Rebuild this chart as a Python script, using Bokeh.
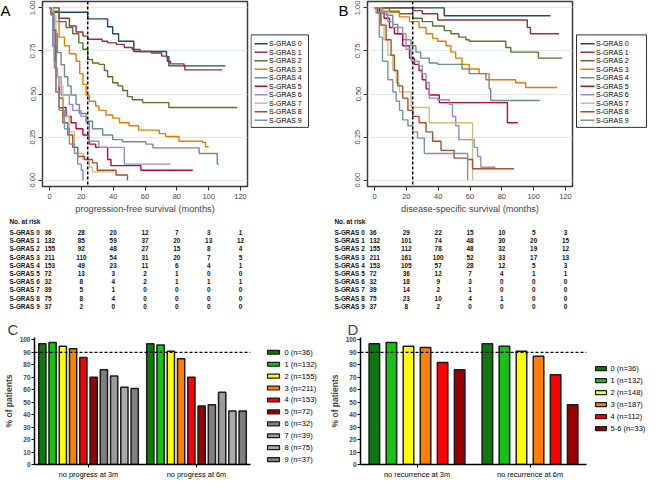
from bokeh.plotting import figure
from bokeh.layouts import column, row
from bokeh.models import (Range1d, FactorRange, Span, FixedTicker, ColumnDataSource,
                          NumeralTickFormatter)
from bokeh.transform import dodge
from bokeh.core.properties import value
from bokeh.embed import file_html
from bokeh.resources import INLINE

FONT = "Liberation Sans"

# ---------------- Kaplan-Meier data ----------------
group_names = [f"S-GRAS {i}" for i in range(10)]
km_colors = ["#1a476f", "#90353b", "#55752f", "#e37e00", "#6e8e84",
             "#c10534", "#938dd2", "#cac27e", "#a0522d", "#7b92a8"]
landmark_month = 24

pfs_t0 = [0, 1, 24, 36.5, 39.7, 43.4, 53, 73.5, 75, 110.6]
pfs_s0 = [1, 0.975, 0.936, 0.89, 0.85, 0.806, 0.747, 0.717, 0.663, 0.663]
pfs_t1 = [0, 6, 12.5, 16.7, 21, 24, 33, 36.5, 42, 47, 52, 57, 64, 70.5, 74, 76, 84.5, 85, 108.5]
pfs_s1 = [1, 0.94, 0.895, 0.86, 0.836, 0.818, 0.806, 0.797, 0.788, 0.77, 0.758, 0.747, 0.738, 0.72, 0.69, 0.675, 0.663, 0.64, 0.64]
pfs_t2 = [0, 2, 6, 10.4, 14.6, 18.4, 21, 24, 27, 31, 34.5, 36.5, 39.7, 43, 46, 49, 52, 58.5, 75, 118]
pfs_s2 = [1, 0.98, 0.92, 0.886, 0.85, 0.797, 0.76, 0.70, 0.68, 0.672, 0.636, 0.60, 0.565, 0.547, 0.52, 0.485, 0.467, 0.45, 0.422, 0.422]
pfs_t3 = [0, 1, 3, 6, 9.4, 12.5, 16.7, 19, 21, 23, 25, 29, 31, 35.5, 39.7, 44, 50, 56, 69, 73, 81.4, 96, 98, 100]
pfs_s3 = [1, 0.98, 0.92, 0.83, 0.78, 0.734, 0.69, 0.618, 0.556, 0.494, 0.458, 0.43, 0.405, 0.378, 0.36, 0.333, 0.316, 0.29, 0.27, 0.253, 0.226, 0.22, 0.194, 0.194]
pfs_t4 = [0, 1, 3, 5, 7.3, 9.4, 11.5, 13.6, 16.7, 18.8, 23, 27, 33.4, 39.7, 46, 60.5, 65, 94, 105.4, 106.5]
pfs_s4 = [1, 0.97, 0.85, 0.74, 0.67, 0.60, 0.547, 0.494, 0.44, 0.387, 0.342, 0.298, 0.262, 0.235, 0.223, 0.209, 0.187, 0.155, 0.093, 0.093]
pfs_t5 = [0, 1, 2, 4, 6, 8.4, 10.4, 13.6, 16.7, 21, 25, 29, 36.5, 38.6, 57.4, 90]
pfs_s5 = [1, 0.96, 0.78, 0.60, 0.476, 0.422, 0.369, 0.333, 0.298, 0.262, 0.209, 0.19, 0.12, 0.084, 0.057, 0.057]
pfs_t6 = [0, 2, 3, 5, 7.3, 12.5, 14.6, 19.8, 23, 25, 31, 47, 76]
pfs_s6 = [1, 0.97, 0.65, 0.60, 0.494, 0.44, 0.405, 0.37, 0.333, 0.226, 0.19, 0.093, 0.093]
pfs_t7 = [0, 2, 4, 6, 8.4, 12.5, 15.7, 17.7, 21, 25, 27, 40.7]
pfs_s7 = [1, 0.95, 0.60, 0.547, 0.369, 0.28, 0.19, 0.155, 0.12, 0.075, 0.048, 0.048]
pfs_t8 = [0, 1, 2, 4, 6, 8.4, 11.5, 14.6, 17.7, 22, 27, 30, 41.8, 49]
pfs_s8 = [1, 0.97, 0.87, 0.51, 0.42, 0.333, 0.262, 0.19, 0.137, 0.12, 0.10, 0.057, 0.03, 0.0]
pfs_t9 = [0, 1, 2, 3, 4, 6, 9.4, 12.5, 15.7, 17.7, 20, 21]
pfs_s9 = [1, 0.96, 0.78, 0.69, 0.51, 0.405, 0.298, 0.21, 0.155, 0.093, 0.057, 0.0]

dss_t0 = [0, 43.8, 110.6]
dss_s0 = [1, 0.954, 0.954]
dss_t1 = [0, 24, 30, 39.7, 96, 98, 116]
dss_s1 = [1, 0.984, 0.966, 0.93, 0.886, 0.85, 0.85]
dss_t2 = [0, 9.4, 15.7, 24, 30, 36.5, 43.8, 48, 53, 57.4, 59.5, 82.5, 85.6, 103, 118]
dss_s2 = [1, 0.98, 0.966, 0.94, 0.92, 0.895, 0.868, 0.85, 0.83, 0.815, 0.806, 0.77, 0.743, 0.708, 0.708]
dss_t3 = [0, 5, 9.4, 15.7, 22, 28, 32.4, 36.5, 39.7, 45, 48, 51, 55, 59.5, 65.8, 72, 88.7, 95, 114.8]
dss_s3 = [1, 0.98, 0.975, 0.948, 0.92, 0.886, 0.85, 0.823, 0.806, 0.78, 0.743, 0.708, 0.672, 0.645, 0.618, 0.583, 0.565, 0.538, 0.538]
dss_t4 = [0, 4, 7.3, 11.5, 14.6, 17.7, 23, 26, 29, 34.4, 39.7, 55, 59.5, 70, 72, 73, 104]
dss_s4 = [1, 0.97, 0.957, 0.904, 0.85, 0.815, 0.78, 0.743, 0.708, 0.68, 0.672, 0.645, 0.618, 0.583, 0.53, 0.462, 0.462]
dss_t5 = [0, 3, 6, 9.4, 12.5, 17.7, 22, 25, 28, 30, 32.4, 34.4, 40.7, 83.5, 90]
dss_s5 = [1, 0.97, 0.94, 0.886, 0.85, 0.78, 0.708, 0.672, 0.636, 0.583, 0.53, 0.494, 0.45, 0.333, 0.333]
dss_t6 = [0, 4, 8.4, 11.5, 17.7, 19.8, 23, 28, 30, 32.4, 34.4, 39.7, 47, 49, 51, 53, 62.6, 64.7, 66.8, 76]
dss_s6 = [1, 0.97, 0.92, 0.886, 0.85, 0.76, 0.69, 0.663, 0.618, 0.565, 0.476, 0.467, 0.44, 0.369, 0.316, 0.235, 0.19, 0.137, 0.075, 0.075]
dss_t7 = [0, 2, 4, 6, 8.4, 11.5, 13.6, 15.7, 23, 34.4, 61.6]
dss_s7 = [1, 0.97, 0.904, 0.815, 0.725, 0.636, 0.565, 0.512, 0.422, 0.333, 0.0]
dss_t8 = [0, 2, 4, 7.3, 10.4, 12.5, 14.6, 17.7, 21, 24, 28, 32.4, 36.5, 41.8, 50, 58.5, 61.6, 87.7]
dss_s8 = [1, 0.97, 0.9, 0.815, 0.725, 0.636, 0.547, 0.476, 0.405, 0.37, 0.333, 0.28, 0.226, 0.173, 0.128, 0.12, 0.066, 0.066]
dss_t9 = [0, 1, 3, 5, 8.4, 11.5, 13.6, 15.7, 17.7, 21, 24, 27, 31.3, 58.5]
dss_s9 = [1, 0.97, 0.83, 0.69, 0.583, 0.512, 0.458, 0.405, 0.35, 0.316, 0.28, 0.244, 0.155, 0.0]

pfs_times = [pfs_t0, pfs_t1, pfs_t2, pfs_t3, pfs_t4, pfs_t5, pfs_t6, pfs_t7, pfs_t8, pfs_t9]
pfs_surv = [pfs_s0, pfs_s1, pfs_s2, pfs_s3, pfs_s4, pfs_s5, pfs_s6, pfs_s7, pfs_s8, pfs_s9]
dss_times = [dss_t0, dss_t1, dss_t2, dss_t3, dss_t4, dss_t5, dss_t6, dss_t7, dss_t8, dss_t9]
dss_surv = [dss_s0, dss_s1, dss_s2, dss_s3, dss_s4, dss_s5, dss_s6, dss_s7, dss_s8, dss_s9]

# ---------------- numbers at risk ----------------
risk_times = [0, 20, 40, 60, 80, 100, 120]
pfs_risk = [
    [36, 28, 20, 12, 7, 3, 1], [132, 85, 59, 37, 20, 13, 12], [155, 92, 48, 27, 15, 8, 4],
    [211, 110, 54, 31, 20, 7, 5], [153, 49, 23, 11, 6, 4, 1], [72, 13, 3, 2, 1, 0, 0],
    [32, 8, 4, 2, 1, 1, 1], [39, 5, 1, 0, 0, 0, 0], [75, 8, 4, 0, 0, 0, 0], [37, 2, 0, 0, 0, 0, 0],
]
dss_risk = [
    [36, 29, 22, 15, 10, 5, 3], [132, 101, 74, 48, 30, 20, 15], [155, 112, 78, 48, 32, 19, 12],
    [211, 161, 100, 52, 33, 17, 13], [153, 105, 57, 28, 12, 5, 3], [72, 36, 12, 7, 4, 1, 1],
    [32, 18, 9, 3, 0, 0, 0], [39, 14, 2, 1, 0, 0, 0], [75, 23, 10, 4, 1, 0, 0], [37, 8, 2, 0, 0, 0, 0],
]

# ---------------- bar data ----------------
c_groups = ["no progress at 3m", "no progress at 6m"]
c_labels = ["0 (n=36)", "1 (n=132)", "2 (n=155)", "3 (n=211)", "4 (n=153)",
            "5 (n=72)", "6 (n=32)", "7 (n=39)", "8 (n=75)", "9 (n=37)"]
c_3m = [97, 98, 95, 93, 86, 70, 76, 71, 62, 61]
c_6m = [97, 96, 91, 85, 70, 47, 48, 58, 43, 43]
c_colors = ["#0b7a0b", "#16c216", "#ffff00", "#ff8000", "#ff0000",
            "#9a0000", "#7f7f7f", "#9c9c9c", "#ababab", "#808080"]

d_groups = ["no recurrence at 3m", "no recurrence at 6m"]
d_labels = ["0 (n=36)", "1 (n=132)", "2 (n=148)", "3 (n=187)", "4 (n=112)", "5-6 (n=33)"]
d_3m = [97, 98, 95, 94, 82, 76]
d_6m = [97, 95, 91, 87, 72, 48]
d_colors = ["#0b7a0b", "#16c216", "#ffff00", "#ff8000", "#ff0000", "#9a0000"]

threshold = 90
KM_X = (-4.4, 124.4)
KM_Y = (-0.037, 1.037)
KM_H = 216
TABLE_H = 102
BAR_H = 163


def blank(width, height, xr, yr):
    p = figure(width=width, height=height, x_range=xr, y_range=yr, x_axis_type=None,
               y_axis_type=None, output_backend="svg", toolbar_location=None, min_border=0)
    p.outline_line_color = None
    p.grid.visible = False
    return p


def letter_strip(width, letter, x):
    p = blank(width, KM_H, Range1d(0, width), Range1d(KM_H, 0))
    p.text(x=[x], y=[1], text=[letter], text_align="left", text_baseline="top",
           text_font=value(FONT), text_font_size="15px", text_color="black")
    return p


def km_figure(times, surv, xlabel, width, bl, br):
    p = figure(width=width, height=KM_H, x_range=Range1d(*KM_X), y_range=Range1d(*KM_Y),
               output_backend="svg", toolbar_location=None,
               min_border_left=bl, min_border_right=br, min_border_top=1, min_border_bottom=0)
    p.outline_line_color = "#3a3a3a"
    p.outline_line_width = 1.5
    p.xgrid.visible = False
    p.ygrid.ticker = FixedTicker(ticks=[0, 0.25, 0.5, 0.75, 1.0])
    p.ygrid.grid_line_color = "#e0ebee"
    p.xaxis.ticker = FixedTicker(ticks=risk_times)
    p.yaxis.ticker = FixedTicker(ticks=[0, 0.25, 0.5, 0.75, 1.0])
    p.yaxis.formatter = NumeralTickFormatter(format="0.00")
    p.yaxis.major_label_orientation = "vertical"
    for ax in (p.xaxis[0], p.yaxis[0]):
        ax.axis_line_color = None
        ax.major_tick_line_color = "#333333"
        ax.major_tick_out = 4
        ax.major_tick_in = 0
        ax.minor_tick_line_color = None
        ax.major_label_text_font = FONT
        ax.major_label_text_font_size = "7.5px"
        ax.major_label_standoff = 3
    p.xaxis.axis_label = xlabel
    p.xaxis.axis_label_text_font = FONT
    p.xaxis.axis_label_text_font_size = "9.2px"
    p.xaxis.axis_label_text_font_style = "normal"
    p.xaxis.axis_label_standoff = 2
    for i, (t, s) in enumerate(zip(times, surv)):
        p.step(t, s, mode="after", line_color=km_colors[i], line_width=1.4)
    p.add_layout(Span(location=landmark_month, dimension="height", line_color="black",
                      line_dash="3 2", line_width=1.5))
    return p


def km_legend(width, box_l, box_r, sw_l, sw_r, txt_x):
    p = blank(width, KM_H, Range1d(0, width), Range1d(KM_H, 0))
    p.quad(left=[box_l], right=[box_r], top=[39], bottom=[147], fill_color="white",
           line_color="#333333", line_width=1)
    ys = [49.3 + 9.93 * i for i in range(len(group_names))]
    p.segment(x0=[sw_l] * len(ys), x1=[sw_r] * len(ys), y0=ys, y1=ys,
              line_color=km_colors, line_width=1.4)
    p.text(x=[txt_x] * len(ys), y=ys, text=group_names, text_align="left",
           text_baseline="middle", text_font=value(FONT), text_font_size="7px",
           text_color="black")
    return p


def risk_figure(risk, width, bl, br):
    ppm = (width - bl - br) / (KM_X[1] - KM_X[0])
    x0 = KM_X[0] - bl / ppm
    x1 = KM_X[1] + br / ppm
    top_r = (8 + KM_H - 240) / 8.2
    bot_r = top_r + TABLE_H / 8.2
    p = blank(width, TABLE_H, Range1d(x0, x1), Range1d(bot_r, top_r))
    tf = dict(text_baseline="middle", text_font=value(FONT), text_font_size="6.4px",
              text_font_style="bold", text_color="#111111")
    p.text(x=[0] * 11, y=[-1.34] + list(range(10)), text=["No. at risk"] + group_names,
           x_offset=-40, text_align="left", **tf)
    xs, ys, ts, fx, fy, ft = [], [], [], [], [], []
    for r, vals in enumerate(risk):
        for j, v in enumerate(vals):
            if j == 0:
                fx.append(risk_times[j]); fy.append(r); ft.append(str(v))
            else:
                xs.append(risk_times[j]); ys.append(r); ts.append(str(v))
    p.text(x=fx, y=fy, text=ft, x_offset=-5, text_align="left", **tf)
    p.text(x=xs, y=ys, text=ts, text_align="center", **tf)
    return p


def bar_figure(groups, labels, v3, v6, colors, width, bl, br, pitch, bw, letter, letter_off):
    p = figure(width=width, height=BAR_H, x_range=FactorRange(*groups, range_padding=0),
               y_range=Range1d(0, 102), output_backend="svg", toolbar_location=None,
               min_border_left=bl, min_border_right=br, min_border_top=0, min_border_bottom=0)
    p.outline_line_color = None
    p.grid.visible = False
    n = len(labels)
    for k in range(n):
        src = ColumnDataSource(dict(x=groups, top=[v3[k], v6[k]]))
        p.vbar(x=dodge("x", (k - (n - 1) / 2) * pitch, range=p.x_range), top="top", width=bw,
               source=src, fill_color=colors[k], line_color="#1a1a1a", line_width=1.5)
    p.add_layout(Span(location=threshold, dimension="width", line_color="black",
                      line_dash="3 2", line_width=1.2))
    ya = p.yaxis[0]
    ya.ticker = FixedTicker(ticks=list(range(0, 101, 10)))
    ya.axis_line_color = "black"
    ya.axis_line_width = 1.5
    ya.major_tick_line_color = "black"
    ya.major_tick_out = 3
    ya.major_tick_in = 0
    ya.minor_tick_line_color = None
    ya.major_label_text_font = FONT
    ya.major_label_text_font_size = "6.5px"
    ya.major_label_text_font_style = "bold"
    ya.major_label_standoff = 1
    ya.axis_label = "% of patients"
    ya.axis_label_text_font = FONT
    ya.axis_label_text_font_size = "8.5px"
    ya.axis_label_text_font_style = "bold"
    ya.axis_label_standoff = 3
    xa = p.xaxis[0]
    xa.axis_line_color = "black"
    xa.axis_line_width = 1.5
    xa.major_tick_line_color = "black"
    xa.major_tick_out = 3
    xa.major_tick_in = 0
    xa.minor_tick_line_color = None
    xa.major_label_text_font = FONT
    xa.major_label_text_font_size = "7.4px"
    xa.major_label_text_color = "black"
    xa.major_label_standoff = 2
    p.title.text = letter
    p.title.align = "left"
    p.title.offset = letter_off
    p.title.standoff = 0
    p.title.text_font = FONT
    p.title.text_font_size = "15px"
    p.title.text_font_style = "normal"
    return p


def bar_legend(width, labels, colors, y0, pitch, sw_l, sw_r, txt_x):
    p = blank(width, BAR_H, Range1d(0, width), Range1d(BAR_H, 0))
    ys = [y0 + pitch * i for i in range(len(labels))]
    p.quad(left=[sw_l] * len(ys), right=[sw_r] * len(ys), top=[y - 2.5 for y in ys],
           bottom=[y + 2.5 for y in ys], fill_color=colors, line_color="#1a1a1a", line_width=1.2)
    p.text(x=[txt_x] * len(ys), y=ys, text=labels, text_align="left", text_baseline="middle",
           text_font=value(FONT), text_font_size="7.5px", text_color="black")
    return p


strip_a = letter_strip(14, "A", 0)
pa = km_figure(pfs_times, pfs_surv, "progression-free survival (months)", 236, 28, 3)
leg_a = km_legend(75, 0.5, 58, 4, 17, 18.5)
strip_b = letter_strip(24, "B", 13)
pb = km_figure(dss_times, dss_surv, "disease-specific survival (months)", 226, 18, 3)
leg_b = km_legend(74, 1, 71, 5, 19, 20.5)

ta = risk_figure(pfs_risk, 325, 42, 78)
tb = risk_figure(dss_risk, 324, 42, 77)

bar_top = 8 + KM_H + TABLE_H
pc = bar_figure(c_groups, c_labels, c_3m, c_6m, c_colors, 254, 24, 4, 0.095, 0.067, "C", -27)
leg_c = bar_legend(71, c_labels, c_colors, 345 - bar_top, 15.3, 13, 25, 30)
pd_ = bar_figure(d_groups, d_labels, d_3m, d_6m, d_colors, 263, 35, 2, 0.151, 0.093, "D", -13)
leg_d = bar_legend(61, d_labels, d_colors, 366 - bar_top, 15.4, 7, 18, 22)

layout = column(row(strip_a, pa, leg_a, strip_b, pb, leg_b),
                row(ta, tb),
                row(pc, leg_c, pd_, leg_d))
open("out.html", "w").write(file_html(layout, INLINE))
